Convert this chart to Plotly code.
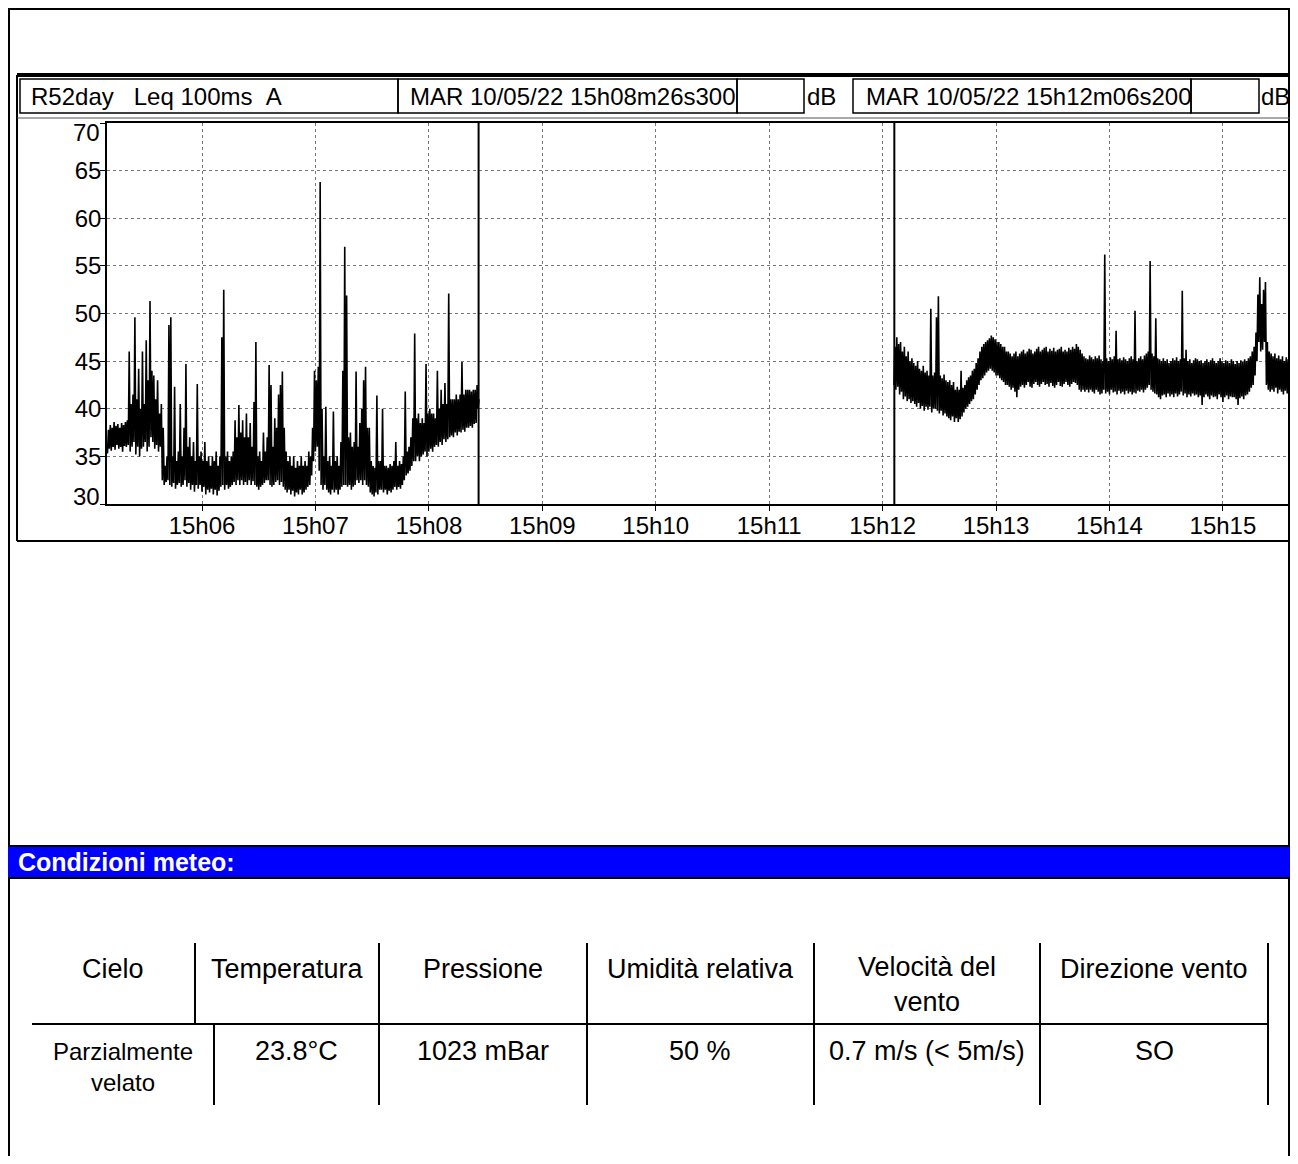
import plotly.graph_objects as go

# ---------------- data ----------------
# seconds after 15h00m00s; per second the lower and upper edge of the Leq 100ms band, dB(A)
seg1_start = 310
seg1_high = [
    37.8, 38.3, 38.0, 38.6, 38.2, 38.4, 38.0, 38.5, 38.3, 38.6,
    38.8, 46.0, 40.5, 41.5, 49.6, 41.0, 44.2, 40.0, 46.0, 40.5,
    47.2, 43.0, 51.3, 44.0, 43.5, 41.0, 43.0, 39.5, 40.5, 38.0,
    34.0, 35.0, 48.8, 49.6, 35.0, 42.3, 34.5, 35.5, 40.5, 35.0,
    38.0, 44.7, 36.0, 37.0, 35.0, 36.5, 34.5, 42.6, 35.0, 35.5,
    34.5, 36.5, 34.5, 35.0, 34.0, 35.0, 34.5, 35.5, 34.0, 35.0,
    47.5, 52.5, 35.0, 35.5, 34.5, 35.0, 35.5, 38.8, 37.0, 40.4,
    37.5, 38.8, 37.0, 39.5, 37.0, 38.5, 36.0, 40.7, 47.0, 35.0,
    35.5, 34.5, 37.5, 35.5, 37.0, 44.6, 42.5, 36.0, 39.0, 38.0,
    41.5, 42.5, 43.9, 38.0, 35.5, 34.5, 35.0, 34.0, 35.0, 33.8,
    34.5, 34.0, 35.0, 34.0, 34.5, 34.0, 35.5, 35.0, 38.0, 44.0,
    43.0, 44.4, 63.8, 40.0, 35.0, 40.2, 34.5, 35.0, 34.0, 39.7,
    34.5, 35.0, 34.0, 36.5, 44.0, 57.0, 51.9, 37.0, 37.5, 36.0,
    36.5, 43.9, 36.0, 38.5, 40.0, 43.0, 44.4, 38.0, 38.0, 34.5,
    34.0, 33.8, 41.4, 34.5, 34.5, 40.0, 34.0, 34.0, 33.8, 34.2,
    34.0, 34.5, 36.5, 34.0, 34.5, 34.2, 35.0, 41.8, 35.5, 36.0,
    37.0, 39.0, 47.9, 39.0, 39.5, 38.5, 39.0, 38.5, 44.7, 39.5,
    40.0, 39.5, 39.5, 39.0, 44.0, 40.0, 42.0, 40.5, 42.7, 40.5,
    52.1, 41.0, 41.0, 41.0, 41.5, 41.0, 41.5, 44.9, 41.5, 42.0,
    42.0, 42.0, 41.8, 42.0, 42.0, 42.5, 41.0,
]
seg1_low = [
    35.3, 35.8, 35.6, 36.0, 35.7, 36.2, 35.8, 36.0, 35.5, 36.1,
    36.0, 36.2, 35.5, 36.0, 36.5, 35.2, 36.0, 35.0, 35.8, 36.0,
    36.5, 35.5, 36.0, 37.0, 36.5, 35.8, 36.2, 35.5, 36.0, 32.5,
    32.0, 32.3, 32.5, 32.0, 31.8, 32.2, 31.6, 32.0, 32.2, 31.8,
    32.0, 32.5, 31.8, 32.2, 31.5, 32.0, 31.3, 32.0, 31.6, 32.0,
    31.3, 31.8, 31.0, 31.5, 31.2, 31.6, 31.0, 31.5, 30.9, 31.4,
    31.8, 32.0, 31.5, 32.0, 31.6, 31.8, 32.0, 32.3, 32.0, 32.5,
    32.0, 32.5, 32.0, 32.3, 32.0, 32.5, 32.0, 32.4, 32.0, 31.8,
    31.5, 31.8, 32.0, 32.2, 32.5, 32.5, 32.0, 31.8, 32.0, 32.3,
    32.5, 32.0, 32.3, 31.8, 31.5, 31.2, 31.5, 31.0, 31.4, 30.8,
    31.2, 31.0, 31.5, 31.0, 31.2, 31.5, 31.8, 32.0, 33.0, 34.5,
    35.5, 36.0, 33.5, 32.0, 31.5, 32.0, 31.5, 31.2, 31.0, 31.5,
    31.2, 31.5, 31.0, 31.5, 31.8, 32.0, 32.0, 31.8, 32.0, 31.5,
    31.8, 32.0, 32.5, 32.2, 32.5, 32.0, 32.5, 32.0, 31.8, 31.2,
    31.0, 30.8, 31.2, 31.0, 31.5, 31.5, 31.2, 31.5, 31.0, 31.4,
    31.2, 31.5, 31.8, 31.5, 31.8, 31.6, 32.0, 32.5, 33.0, 33.2,
    33.5, 34.0, 34.5, 34.5, 35.0, 34.5, 35.0, 35.2, 35.5, 35.0,
    35.5, 35.8, 35.5, 36.0, 36.2, 36.0, 36.5, 36.2, 36.8, 36.5,
    36.8, 37.0, 37.2, 37.0, 37.5, 37.2, 37.6, 37.5, 37.8, 37.6,
    38.0, 38.0, 38.2, 38.0, 38.4, 38.5, 40.0,
]
seg2_start = 726
seg2_high = [
    46.5, 47.5, 46.8, 47.0, 46.0, 46.5, 45.5, 46.0, 45.0, 45.3,
    44.8, 44.5, 45.0, 44.2, 44.0, 44.5, 43.8, 44.0, 43.5, 50.5,
    43.5, 43.8, 49.6, 51.8, 43.5, 43.2, 43.6, 43.0, 42.8, 43.0,
    42.5, 42.8, 42.0, 42.3, 42.0, 44.0, 42.2, 42.5, 43.0, 43.3,
    43.5, 44.0, 44.2, 44.8, 45.3, 46.0, 46.5, 46.8, 47.0, 47.2,
    47.4, 47.7, 47.5, 47.3, 47.0, 47.0, 46.8, 46.5, 46.5, 46.0,
    46.0, 45.8, 45.5, 45.8, 46.0, 45.5, 45.8, 46.0, 46.2, 45.8,
    46.0, 46.3, 46.2, 45.8, 46.0, 46.3, 46.5, 46.0, 46.2, 46.4,
    46.5, 46.0, 46.3, 46.1, 46.4, 46.0, 46.2, 46.3, 46.5, 46.0,
    46.2, 46.0, 46.4, 46.2, 46.5, 46.3, 46.8, 46.5, 46.2, 45.8,
    45.5, 45.3, 45.2, 45.6, 45.4, 45.2, 45.5, 45.3, 45.6, 45.2,
    45.0, 56.2, 45.3, 45.0, 45.4, 45.2, 45.5, 48.2, 45.2, 45.3,
    45.1, 45.4, 45.2, 45.0, 45.3, 45.5, 45.2, 50.3, 45.0, 45.3,
    45.5, 45.2, 45.6, 45.8, 46.0, 55.5, 45.8, 45.5, 49.5, 45.3,
    45.2, 45.0, 45.3, 45.0, 45.2, 44.8, 45.0, 45.3, 45.1, 45.4,
    45.0, 45.2, 52.4, 45.3, 46.2, 45.0, 45.2, 44.8, 45.1, 45.3,
    45.2, 45.0, 45.1, 44.8, 45.0, 45.2, 44.9, 45.1, 45.3, 45.0,
    44.8, 45.0, 45.3, 45.0, 44.8, 45.1, 45.0, 44.8, 45.2, 45.0,
    44.7, 45.0, 44.8, 45.1, 44.9, 45.2, 45.0, 45.3, 45.5, 46.0,
    46.5, 48.0, 52.0, 53.8, 51.0, 52.5, 53.3, 47.0, 46.0, 45.8,
    45.5, 45.8, 45.3, 45.6, 45.2, 45.5, 45.0, 45.4, 45.2, 45.5,
    67.2,
]
seg2_low = [
    42.5, 42.0, 42.3, 41.5, 41.8, 41.0, 41.3, 40.8, 41.0, 40.6,
    40.8, 40.5, 40.2, 40.6, 40.0, 40.3, 39.8, 40.2, 39.9, 40.2,
    39.6, 40.0, 40.0, 39.8, 39.5, 39.8, 39.3, 39.5, 39.2, 39.0,
    38.8, 39.2, 38.6, 39.0, 38.6, 38.9, 39.2, 39.6, 40.0, 40.2,
    40.5, 40.8, 41.0, 41.5, 42.0, 42.5, 43.0, 43.2, 43.5, 43.8,
    44.0, 44.2, 44.0, 43.8, 43.5, 43.5, 43.2, 43.0, 42.8, 42.5,
    42.5, 42.3, 42.0, 42.2, 41.8, 41.2, 42.0, 42.3, 42.5, 42.2,
    42.5, 42.8, 42.3, 42.2, 42.6, 42.8, 42.5, 42.3, 42.6, 42.8,
    42.5, 42.6, 42.3, 42.7, 42.4, 42.2, 42.5, 42.8, 42.4, 42.3,
    42.6, 42.8, 42.5, 42.3, 42.6, 42.8, 42.7, 42.5, 42.0, 41.8,
    42.0, 41.8, 42.0, 41.7, 42.0, 41.8, 41.6, 42.0, 41.8, 41.5,
    41.6, 42.0, 41.6, 41.8, 41.5, 42.0, 41.7, 41.8, 41.5, 41.9,
    41.6, 41.8, 41.5, 41.9, 41.6, 41.8, 41.5, 41.7, 41.6, 41.9,
    41.8, 42.0, 41.7, 42.0, 42.2, 42.5, 42.0, 41.8, 41.6, 41.5,
    41.2, 41.0, 41.4, 41.5, 41.2, 41.6, 41.3, 41.5, 41.2, 41.6,
    41.3, 41.5, 41.8, 41.4, 41.6, 41.2, 41.5, 41.3, 41.6, 41.4,
    41.5, 41.2, 41.4, 40.4, 41.2, 41.5, 41.3, 41.0, 41.4, 41.2,
    41.3, 41.0, 41.5, 41.2, 40.7, 41.2, 41.4, 41.0, 41.3, 41.2,
    41.2, 41.0, 40.4, 41.1, 41.3, 41.0, 41.4, 41.5, 41.8, 42.2,
    42.5, 43.5, 45.0, 47.0, 46.0, 46.2, 47.0, 42.5, 42.0, 41.8,
    42.0, 41.8, 42.2, 41.6, 42.0, 41.8, 41.5, 41.9, 41.6, 41.8,
    42.0,
]
cursor_times = [506.3, 726.2]          # 15h08m26s300, 15h12m06s200
cursor_labels = ["MAR 10/05/22 15h08m26s300", "MAR 10/05/22 15h12m06s200"]
unit_label = "dB"
chart_title = "R52day\u00a0\u00a0\u00a0Leq 100ms\u00a0\u00a0A"
x_range = [309.75, 937.6]
y_range = [30, 70]
y_tick_vals = [30, 35, 40, 45, 50, 55, 60, 65, 70]
y_tick_text = ["", "35", "40", "45", "50", "55", "60", "65", ""]
y_end_labels = [(30, "30", 8), (70, "70", -9)]   # value, text, vertical nudge (px)
x_tick_vals = [360, 420, 480, 540, 600, 660, 720, 780, 840, 900]
x_tick_text = ["15h06", "15h07", "15h08", "15h09", "15h10",
               "15h11", "15h12", "15h13", "15h14", "15h15"]

meteo_title = "Condizioni meteo:"
table_headers = ["Cielo", "Temperatura", "Pressione", "Umidità relativa",
                 "Velocità del<br>vento", "Direzione vento"]
table_values = ["Parzialmente<br>velato", "23.8°C", "1023 mBar", "50 %",
                "0.7 m/s (&lt; 5m/s)", "SO"]

FONT = "Liberation Sans, Arial, Helvetica, sans-serif"

# page offset (browser body margin) and figure size
OX, OY = 8, 8
W, H = 1290, 1148


def px(x):
    return (x - OX) / W


def py(y):
    return 1 - (y - OY) / H


def band_points(start, lows, highs):
    xs, ys = [], []
    for i, (lo, hi) in enumerate(zip(lows, highs)):
        xs += [start + i, start + i + 0.5]
        ys += [lo, hi]
    return xs, ys


fig = go.Figure()
for start, lows, highs in ((seg1_start, seg1_low, seg1_high),
                           (seg2_start, seg2_low, seg2_high)):
    xs, ys = band_points(start, lows, highs)
    fig.add_trace(go.Scatter(x=xs, y=ys, mode="lines",
                             line=dict(color="black", width=1.6),
                             showlegend=False, hoverinfo="skip"))

shapes = []
for ct in cursor_times:
    shapes.append(dict(type="line", xref="x", yref="y", x0=ct, x1=ct,
                       y0=y_range[0], y1=y_range[1],
                       line=dict(color="black", width=2)))


def pline(x0, y0, x1_, y1, w=2, color="black"):
    shapes.append(dict(type="line", xref="paper", yref="paper",
                       x0=px(x0), y0=py(y0), x1=px(x1_), y1=py(y1),
                       line=dict(color=color, width=w)))


def prect(x0, y0, x1_, y1, w=2, fill=None):
    d = dict(type="rect", xref="paper", yref="paper",
             x0=px(x0), y0=py(y0), x1=px(x1_), y1=py(y1),
             line=dict(color="black", width=w))
    if fill:
        d["fillcolor"] = fill
    shapes.append(d)


# page border (as close to the page edge as the visible figure allows)
pline(8, 9, 1290, 9, 2)
pline(9, 8, 9, 1170, 2)
pline(1289, 8, 1289, 1170, 2)
# chart frame
pline(17, 75, 1295, 75, 4)
pline(17, 75, 17, 541, 2)
pline(17, 541, 1295, 541, 2)
# header boxes
prect(20, 79, 398, 113, 1.5)
prect(398, 79, 737, 113, 1.5)
prect(737, 79, 804, 113, 1.5)
prect(853, 79, 1191, 113, 1.5)
prect(1191, 79, 1259, 113, 1.5)
pline(17, 118, 1295, 118, 1, "#555555")

# meteo band
prect(6, 846, 1295, 878, 2, fill="#0000FF")

# table lines
pline(32, 1024, 1268, 1024, 2)
for xv in (195, 379, 587, 814, 1040, 1268):
    pline(xv, 943, xv, 1024, 2)
for xv in (214, 379, 587, 814, 1040, 1268):
    pline(xv, 1024, xv, 1105, 2)

annotations = []


def text(x, y, s, size=24, anchor="left", color="black", bold=False):
    annotations.append(dict(xref="paper", yref="paper", x=px(x), y=py(y),
                            text=("<b>%s</b>" % s) if bold else s,
                            showarrow=False, xanchor=anchor, yanchor="middle",
                            align="center",
                            font=dict(family=FONT, size=size, color=color)))


text(29, 97, chart_title)
text(408, 97, cursor_labels[0])
text(805, 97, unit_label)
text(864, 97, cursor_labels[1])
text(1259, 97, unit_label)

text(16, 862, meteo_title, size=25, color="white", bold=True)

head_cx = [113, 287, 483, 700, 927, 1154]
val_cx = [123, 296, 483, 700, 927, 1154]
for cx, s in zip(head_cx, table_headers):
    if "<br>" in s:
        text(cx, 985, s, size=27, anchor="center")
    else:
        text(cx, 969, s, size=27, anchor="center")
for cx, s in zip(val_cx, table_values):
    if "<br>" in s:
        text(cx, 1067, s, size=24, anchor="center")
    else:
        text(cx, 1051, s, size=27, anchor="center")

# end labels of the dB axis sit inside the axis span, as in the original
for val, lab, nudge in y_end_labels:
    annotations.append(dict(xref="paper", yref="y", x=px(102), y=val, text=lab,
                            showarrow=False, xanchor="right", yanchor="middle",
                            yshift=nudge,
                            font=dict(family=FONT, size=24, color="black")))

axis_common = dict(showline=True, linecolor="black", linewidth=1.5, mirror=True,
                   showgrid=True, gridcolor="#777777", gridwidth=1, griddash="dot",
                   zeroline=False, ticks="outside", ticklen=5, tickcolor="black",
                   automargin=False,
                   tickfont=dict(family=FONT, size=24, color="black"))

fig.update_layout(
    width=W, height=H,
    margin=dict(l=0, r=0, t=0, b=0, pad=0),
    paper_bgcolor="white", plot_bgcolor="white",
    xaxis=dict(domain=[px(107), px(1294)], range=x_range,
               tickvals=x_tick_vals, ticktext=x_tick_text,
               ticklabelstandoff=-6, **axis_common),
    yaxis=dict(domain=[py(504), py(123)], range=y_range,
               tickvals=y_tick_vals, ticktext=y_tick_text,
               ticklabelstandoff=-6, **axis_common),
    shapes=shapes, annotations=annotations,
    showlegend=False,
)

fig.write_html("out.html")
